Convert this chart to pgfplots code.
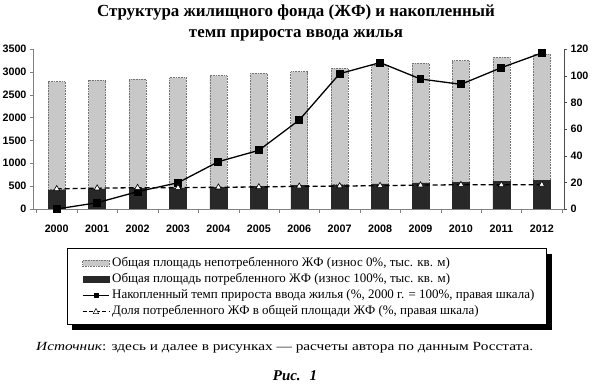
\documentclass[border=0pt]{standalone}
\usepackage{pgfplots}
\pgfplotsset{compat=1.18}
\usepackage{pgfplotstable}
\usepackage{graphicx}
\usepackage{fontspec}
\setmainfont{Liberation Serif}
\newfontfamily\tickfont{Liberation Sans}
\definecolor{lightbar}{RGB}{200,200,200}
\definecolor{darkbar}{RGB}{40,40,40}

\pgfplotstableread{
x year dark light growth share
0  2000 420 2365 0     15.1
1  2001 440 2375 4.7   15.6
2  2002 455 2385 13    16.0
3  2003 460 2415 19.7  16.0
4  2004 475 2440 35.5  16.3
5  2005 490 2475 44    16.5
6  2006 510 2495 66.7  17.0
7  2007 530 2545 101.5 17.2
8  2008 550 2600 109.8 17.5
9  2009 570 2615 97.5  17.9
10 2010 590 2655 93.5  18.2
11 2011 600 2715 106   18.1
12 2012 620 2770 117   18.3
}\data

\begin{document}
\begin{tikzpicture}
\path[use as bounding box] (0,0) rectangle (595bp,384bp);
% legend frame with shadow
\fill[black] (72bp,54bp) rectangle (552bp,130bp);
\draw[fill=white, line width=0.8bp] (67bp,60bp) rectangle (546bp,136bp);
\pgfplotsset{
  every axis/.append style={
    scale only axis, width=531bp, height=160bp,
    at={(33bp,175bp)}, anchor=south west,
    xmin=-0.587, xmax=12.55,
    /pgf/number format/assume math mode=true,
    /pgf/number format/1000 sep={},
    tick label style={font=\tickfont\bfseries\fontsize{10.8}{12}\selectfont},
    tick align=outside,
    major tick length=3bp,
  },
}
\begin{axis}[
  ybar stacked, bar width=17bp,
  ymin=0, ymax=3500, ytick={0,500,...,3500},
  axis x line*=bottom, axis y line*=left,
  axis line style={gray},
  xtick={0,...,12}, major x tick style={draw=none},
  xticklabels={2000,2001,2002,2003,2004,2005,2006,2007,2008,2009,2010,2011,2012},
  minor xtick={-0.5,0.5,...,12.5},
  minor tick length=4bp, minor x tick style={gray},
  xticklabel style={yshift=-9bp},
  ytick style={gray},
]
\addplot[fill=darkbar, draw=darkbar] table[x=x, y=dark] {\data};
\addplot[fill=lightbar, draw=black!55, densely dotted, line width=0.6bp] table[x=x, y=light] {\data};
\end{axis}
\begin{axis}[
  ymin=0, ymax=120, ytick={0,20,...,120},
  axis x line=none, axis y line*=right,
  axis line style={black!70},
  ytick style={black!70},
  legend cell align=left,
  legend style={at={(0.0923,-0.2875)}, anchor=north west,
    draw=none, fill=none, inner sep=0pt,
    font=\fontsize{13}{16}\selectfont, row sep=0pt,
    nodes={inner xsep=2.5bp, inner ysep=2bp, text height=9bp, text depth=3bp}},
]
\addplot[forget plot, black, line width=1.3bp, mark=square*, mark size=3.3bp, mark options={solid}] table[x=x, y=growth] {\data};
\addplot[forget plot, black, line width=1.3bp, dash pattern=on 5bp off 3bp, mark=triangle*, mark size=3.4bp, mark options={solid, fill=white, line width=0.6bp}] table[x=x, y=share] {\data};
\addlegendimage{legend image code/.code={\draw[fill=lightbar, draw=black!55, densely dotted, line width=0.6bp] (0bp,-3bp) rectangle (26.5bp,3bp);}}
\addlegendentry{Общая площадь непотребленного ЖФ (износ 0\%, тыс. кв. м)}
\addlegendimage{legend image code/.code={\fill[darkbar] (0bp,-3bp) rectangle (26.5bp,3bp);}}
\addlegendentry{Общая площадь потребленного ЖФ (износ 100\%, тыс. кв. м)}
\addlegendimage{legend image code/.code={\draw[black, line width=1bp] (0bp,0bp) -- (26.5bp,0bp); \fill[black] (11bp,-2bp) rectangle (15bp,2bp);}}
\addlegendentry{Накопленный темп прироста ввода жилья (\%, 2000 г. = 100\%, правая шкала)}
\addlegendimage{legend image code/.code={\draw[black, line width=1bp, dash pattern=on 4bp off 2.5bp] (0bp,0bp) -- (26.5bp,0bp); \draw[black, fill=white, line width=0.5bp] (10.5bp,-2.5bp) -- (16bp,-2.5bp) -- (13.25bp,2.8bp) -- cycle;}}
\addlegendentry{Доля потребленного ЖФ в общей площади ЖФ (\%, правая шкала)}
\end{axis}
\node[align=center, font=\bfseries\fontsize{17}{21}\selectfont] at (296bp,361bp) {Структура жилищного фонда (ЖФ) и накопленный\\темп прироста ввода жилья};
\node[anchor=west, inner sep=0] at (36bp,36bp) {\scalebox{1.23}[1]{\fontsize{12.5}{14}\selectfont\textit{Источник}: здесь и далее в рисунках — расчеты автора по данным Росстата.}};
\node[font=\bfseries\itshape\fontsize{15}{17}\selectfont] at (295bp,8bp) {Рис.\hspace{0.6em}1};
\end{tikzpicture}
\end{document}
